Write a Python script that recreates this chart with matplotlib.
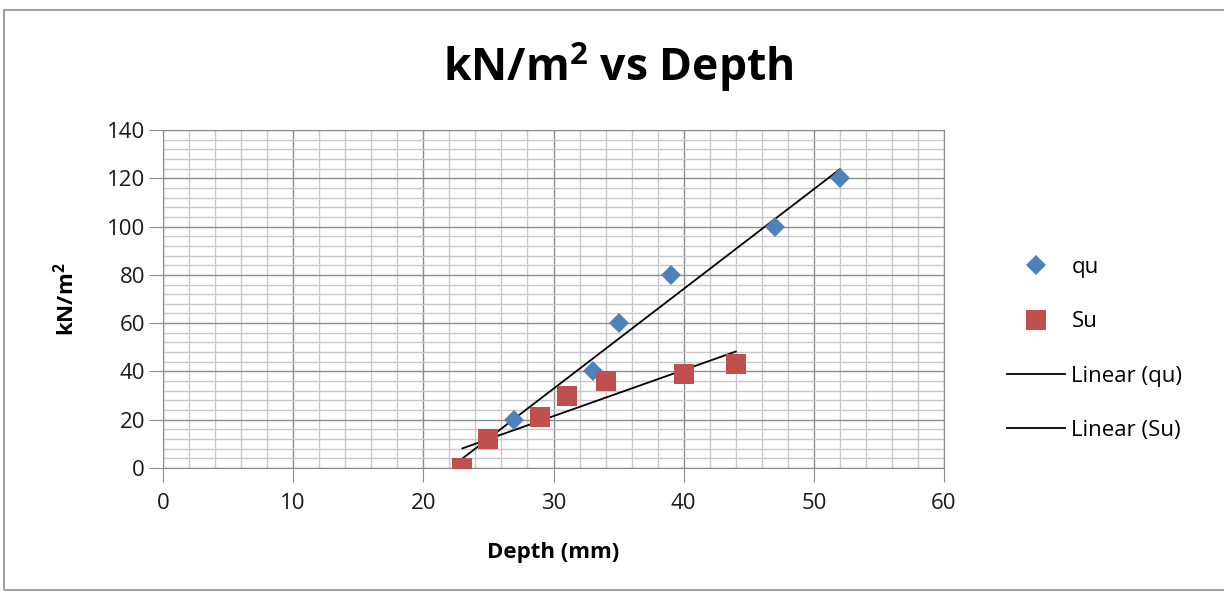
import numpy as np
import matplotlib
matplotlib.use("Agg")
import matplotlib.pyplot as plt
from matplotlib.patches import Rectangle
from matplotlib.lines import Line2D

plt.rcParams['font.family'] = ['Open Sans', 'DejaVu Sans']
plt.rcParams['mathtext.fontset'] = 'custom'
plt.rcParams['mathtext.rm'] = 'Open Sans'
plt.rcParams['mathtext.bf'] = 'Open Sans:bold'

# data
depth_qu = [23, 27, 33, 35, 39, 47, 52]
qu = [0, 20, 40, 60, 80, 100, 120]
depth_su = [23, 25, 29, 31, 34, 40, 44]
su = [0, 12, 21, 30, 36, 39, 43]

blue = "#4F81BD"
red = "#C0504D"
fs = 16

fig = plt.figure(figsize=(12.24, 5.93), dpi=100)
# outer chart frame
fig.patches.append(Rectangle((4/1224, 3/593), 1.0, 580/593, transform=fig.transFigure,
                             fill=False, edgecolor="#8c8c8c", lw=1.2))

ax = fig.add_axes([163/1224, 1-468/593, (944-163)/1224, (468-130)/593])
ax.set_xlim(0, 60)
ax.set_ylim(0, 140)
ax.set_xticks(np.arange(0, 61, 10))
ax.set_yticks(np.arange(0, 141, 20))
ax.set_xticks(np.arange(0, 61, 2), minor=True)
ax.set_yticks(np.arange(0, 141, 4), minor=True)
ax.grid(which="minor", color="#c8c8c8", lw=1.0)
ax.grid(which="major", color="#8c8c8c", lw=1.0)
ax.set_axisbelow(True)
for s in ax.spines.values():
    s.set_color("#8c8c8c")
ax.tick_params(which="major", length=10, color="#8c8c8c", labelsize=fs, pad=3,
               labelcolor="#1a1a1a")
ax.tick_params(axis="x", which="major", pad=8)
ax.tick_params(which="minor", length=0)

# trend lines
for xs, ys in [(depth_qu, qu), (depth_su, su)]:
    m, b = np.polyfit(xs, ys, 1)
    xx = np.array([min(xs), max(xs)])
    ax.plot(xx, m*xx + b, color="black", lw=1.3, zorder=3)

ax.plot(depth_qu, qu, 'D', color=blue, ms=10.5, mew=0, zorder=4)
ax.plot(depth_su, su, 's', color=red, ms=15, mew=0, zorder=5)

ax.set_xlabel("Depth (mm)", fontsize=fs, fontweight="bold", labelpad=20)
ax.set_ylabel(r"kN/m$^\mathbf{2}$", fontsize=fs, fontweight="bold", labelpad=20)
fig.text(618/1224, 1-67/593, r"kN/m$^\mathbf{2}$ vs Depth", fontsize=32, fontweight="bold",
         ha="center", va="center")

handles = [
    Line2D([], [], ls="none", marker="D", color=blue, ms=10.5, mew=0),
    Line2D([], [], ls="none", marker="s", color=red, ms=15, mew=0),
    Line2D([], [], color="black", lw=1.3),
    Line2D([], [], color="black", lw=1.3),
]
labels = ["qu", "Su", "Linear (qu)", "Linear (Su)"]
fig.legend(handles, labels, loc="center left", bbox_to_anchor=(987/1224, 1-349/593),
           frameon=False, fontsize=fs, labelspacing=1.5, handlelength=2.6,
           handletextpad=0.3)

fig.savefig("out.png", dpi=100)
